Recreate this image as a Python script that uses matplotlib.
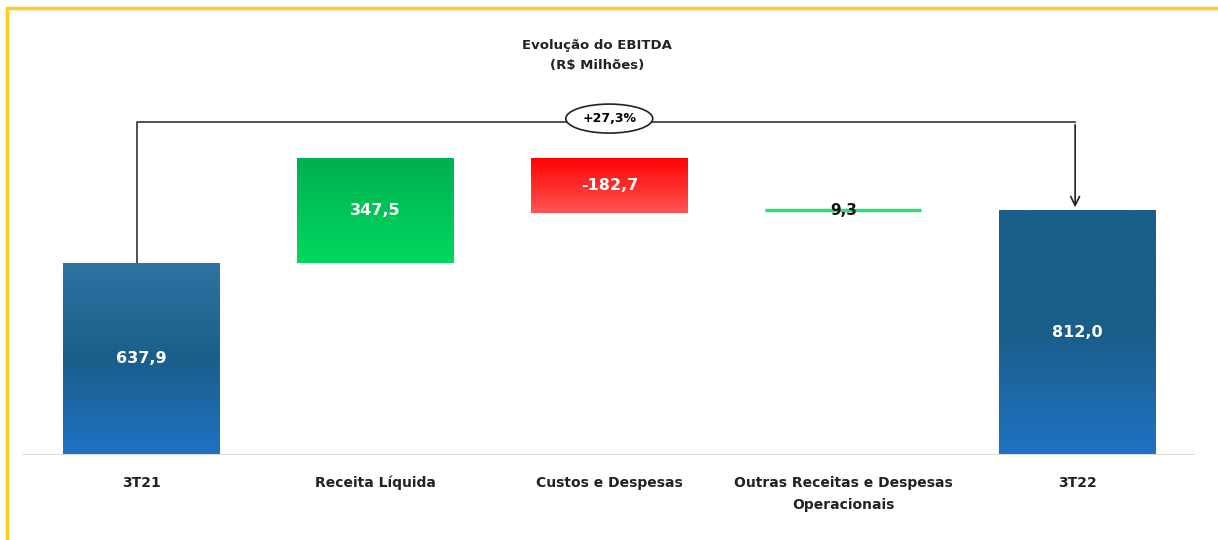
import numpy as np
import matplotlib.pyplot as plt
from matplotlib.colors import LinearSegmentedColormap
from matplotlib.patches import Rectangle
import matplotlib.lines as mlines

plt.rcParams['font.family'] = ['DejaVu Sans Condensed', 'Liberation Sans Narrow', 'DejaVu Sans']

categories = ["3T21", "Receita Líquida", "Custos e Despesas",
              "Outras Receitas e Despesas\nOperacionais", "3T22"]
values = [637.9, 347.5, -182.7, 9.3, 812.0]
kinds = ["total", "delta", "delta", "delta", "total"]
labels = ["637,9", "347,5", "-182,7", "9,3", "812,0"]
growth_label = "+27,3%"

fig = plt.figure(figsize=(12.18, 5.4), dpi=100)
ax = fig.add_axes([22 / 1218, 85 / 540, 1173 / 1218, 355 / 540])
ax.set_xlim(-0.5085, 4.502)
ax.set_ylim(0, 1176.6)

# gradients (top -> bottom)
blue1 = LinearSegmentedColormap.from_list("b1", ["#2f73a3", "#1b5e8a", "#1f72c4"])
blue2 = LinearSegmentedColormap.from_list("b2", ["#1b5e8a", "#1b5e8a", "#1f72c4"])
green = LinearSegmentedColormap.from_list("g", ["#00b04f", "#00d860"])
red = LinearSegmentedColormap.from_list("r", ["#ff0000", "#ff5555"])

width = 0.667
running = 0.0
grad = np.linspace(0, 1, 256).reshape(-1, 1)
for i, (v, k, lab) in enumerate(zip(values, kinds, labels)):
    if k == "total":
        bottom, top = 0.0, v
        running = v
        cmap = blue1 if i == 0 else blue2
    else:
        if v >= 0:
            bottom, top = running, running + v
        else:
            bottom, top = running + v, running
        running += v
        cmap = green if v >= 0 else red
    x0 = i - width / 2
    if top - bottom < 20:
        ax.plot([x0, x0 + width], [top - 1, top - 1], color="#2fdc7a", lw=2.5, solid_capstyle="butt")
        ax.text(i, top, lab, ha="center", va="center", fontsize=11, fontweight="bold", color="#111111")
        continue
    rect = Rectangle((x0, bottom), width, top - bottom, facecolor="none", edgecolor="none")
    ax.add_patch(rect)
    im = ax.imshow(grad, cmap=cmap, aspect="auto", extent=[x0, x0 + width, bottom, top],
                   origin="upper", interpolation="bicubic", zorder=2)
    im.set_clip_path(rect)
    ax.text(i, (bottom + top) / 2, lab, ha="center", va="center", fontsize=11.5,
            fontweight="bold", color="white", zorder=3)

# connector between totals
yline = 1103.7
x_start, x_end = -0.017, 3.99
ax.plot([x_start, x_start, x_end], [values[0], yline, yline], color="#333333", lw=1.2, zorder=1)
ax.annotate("", xy=(x_end, values[-1]), xytext=(x_end, yline),
            arrowprops=dict(arrowstyle="->", color="#222222", lw=1.2, mutation_scale=16))
ax.text(2.0, 1115, growth_label, ha="center", va="center", fontsize=9, fontweight="bold",
        bbox=dict(boxstyle="ellipse,pad=0.3", fc="white", ec="#222222", lw=1.2), zorder=4)

ax.axhline(0, color="#dcdcdc", lw=1.5)
ax.set_xticks(range(len(categories)))
ax.set_xticklabels(categories, fontsize=10, fontweight="bold", color="#222222",
                   va="top", linespacing=1.7)
ax.tick_params(axis="x", length=0, pad=15)
ax.set_yticks([])
for s in ax.spines.values():
    s.set_visible(False)

fig.text(597 / 1218, 1 - 45 / 540, "Evolução do EBITDA", ha="center", va="center",
         fontsize=9.5, fontweight="bold", color="#222222")
fig.text(597 / 1218, 1 - 66 / 540, "(R$ Milhões)", ha="center", va="center",
         fontsize=9.5, fontweight="bold", color="#222222")

# yellow frame (top and left)
fig.add_artist(mlines.Line2D([7 / 1218, 7 / 1218, 1], [0, 1 - 8 / 540, 1 - 8 / 540],
                             transform=fig.transFigure, color="#ffc926", lw=2.5))

fig.savefig("out.png", dpi=100)
